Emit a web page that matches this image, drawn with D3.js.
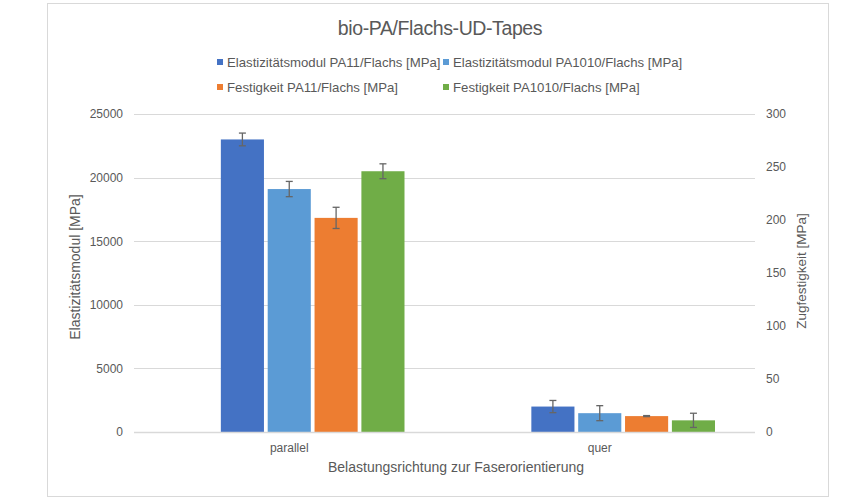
<!DOCTYPE html>
<html lang="de">
<head>
<meta charset="UTF-8">
<title>bio-PA/Flachs-UD-Tapes</title>
<script src="https://d3js.org/d3.v7.min.js"></script>
<style>
  body { margin: 0; background: #fff; }
  text { font-family: "Liberation Sans", Arial, sans-serif; fill: #595959; }
</style>
</head>
<body>
<svg width="868" height="500"></svg>
<script>
// data
const categories = ["parallel", "quer"];
const seriesNames = [
  "Elastizitätsmodul PA11/Flachs [MPa]",
  "Elastizitätsmodul PA1010/Flachs [MPa]",
  "Festigkeit PA11/Flachs [MPa]",
  "Festigkeit PA1010/Flachs [MPa]"
];
const seriesAxis = ["left", "left", "right", "right"];
const modulPA11 = [23000, 2000];
const modulPA1010 = [19100, 1480];
const festPA11 = [202, 15];
const festPA1010 = [246, 11];
const errModulPA11 = [500, 480];
const errModulPA1010 = [600, 590];
const errFestPA11 = [10, 0.5];
const errFestPA1010 = [7, 6.7];
const leftTicks = [0, 5000, 10000, 15000, 20000, 25000];
const rightTicks = [0, 50, 100, 150, 200, 250, 300];

const colors = ["#4472c4", "#5b9bd5", "#ed7d31", "#70ad47"];
const values = [modulPA11, modulPA1010, festPA11, festPA1010];
const errors = [errModulPA11, errModulPA1010, errFestPA11, errFestPA1010];

const svg = d3.select("svg");
const plot = { left: 134, right: 755, top: 114, bottom: 432 };

// chart frame
svg.append("rect")
  .attr("x", 47.5).attr("y", 3.5)
  .attr("width", 781).attr("height", 493)
  .attr("fill", "none").attr("stroke", "#d9d9d9");

const x0 = d3.scaleBand().domain(categories).range([plot.left, plot.right]);
// Excel leaves an empty slot in front of the four bars
const slots = ["_"].concat(seriesNames);
const x1 = d3.scaleBand().domain(slots)
  .range([40, x0.bandwidth() - 40]).paddingInner(0.08);

const yL = d3.scaleLinear().domain([0, 25000]).range([plot.bottom, plot.top]);
const yR = d3.scaleLinear().domain([0, 300]).range([plot.bottom, plot.top]);

// gridlines
svg.append("g").selectAll("line").data(leftTicks.slice(1)).join("line")
  .attr("x1", plot.left).attr("x2", plot.right)
  .attr("y1", d => Math.round(yL(d)) + 0.5).attr("y2", d => Math.round(yL(d)) + 0.5)
  .attr("stroke", "#d9d9d9");

// left axis
const gL = svg.append("g").attr("transform", `translate(${plot.left},0)`)
  .call(d3.axisLeft(yL).tickValues(leftTicks).tickSize(0).tickPadding(11).tickFormat(d3.format("d")));
gL.select(".domain").remove();
gL.selectAll("text").style("font-size", "12px").attr("fill", "#595959")
  .style("font-family", "'Liberation Sans', Arial, sans-serif");

// right axis
const gR = svg.append("g").attr("transform", `translate(${plot.right},0)`)
  .call(d3.axisRight(yR).tickValues(rightTicks).tickSize(0).tickPadding(11).tickFormat(d3.format("d")));
gR.select(".domain").remove();
gR.selectAll("text").style("font-size", "12px").attr("fill", "#595959")
  .style("font-family", "'Liberation Sans', Arial, sans-serif");

// bars
const groups = svg.append("g").selectAll("g").data(categories).join("g")
  .attr("transform", d => `translate(${x0(d)},0)`);

seriesNames.forEach((name, s) => {
  const y = seriesAxis[s] === "left" ? yL : yR;
  groups.append("rect")
    .attr("x", x1(name))
    .attr("width", x1.bandwidth())
    .attr("y", (d, i) => y(values[s][i]))
    .attr("height", (d, i) => plot.bottom - y(values[s][i]))
    .attr("fill", colors[s]);
});

// baseline
svg.append("line")
  .attr("x1", plot.left).attr("x2", plot.right)
  .attr("y1", plot.bottom + 0.5).attr("y2", plot.bottom + 0.5)
  .attr("stroke", "#d9d9d9").attr("stroke-width", 1.5);

// error bars
seriesNames.forEach((name, s) => {
  const y = seriesAxis[s] === "left" ? yL : yR;
  const cx = x1(name) + x1.bandwidth() / 2;
  const eb = groups.append("g").attr("stroke", "#666").attr("stroke-width", 1.3);
  eb.append("line")
    .attr("x1", cx).attr("x2", cx)
    .attr("y1", (d, i) => y(values[s][i] + errors[s][i]))
    .attr("y2", (d, i) => y(values[s][i] - errors[s][i]));
  [1, -1].forEach(sign => {
    eb.append("line")
      .attr("x1", cx - 3.5).attr("x2", cx + 3.5)
      .attr("y1", (d, i) => y(values[s][i] + sign * errors[s][i]))
      .attr("y2", (d, i) => y(values[s][i] + sign * errors[s][i]));
  });
});

// category labels
svg.append("g").selectAll("text").data(categories).join("text")
  .attr("x", d => x0(d) + x0.bandwidth() / 2)
  .attr("y", 452)
  .attr("text-anchor", "middle")
  .style("font-size", "12px")
  .text(d => d);

// axis titles
svg.append("text")
  .attr("x", 456).attr("y", 472)
  .attr("text-anchor", "middle")
  .style("font-size", "14px")
  .text("Belastungsrichtung zur Faserorientierung");

svg.append("text")
  .attr("transform", `translate(80,${(plot.top + plot.bottom) / 2 - 6}) rotate(-90)`)
  .attr("text-anchor", "middle")
  .style("font-size", "14px")
  .text("Elastizitätsmodul [MPa]");

svg.append("text")
  .attr("transform", `translate(806,${(plot.top + plot.bottom) / 2 - 2}) rotate(-90)`)
  .attr("text-anchor", "middle")
  .style("font-size", "13.5px")
  .text("Zugfestigkeit [MPa]");

// title
svg.append("text")
  .attr("x", 440).attr("y", 35)
  .attr("text-anchor", "middle")
  .style("font-size", "19.5px")
  .style("letter-spacing", "-0.4px")
  .text("bio-PA/Flachs-UD-Tapes");

// legend
const legendPos = [[217, 62], [443, 62], [217, 87], [443, 87]];
const legend = svg.append("g").selectAll("g").data(seriesNames).join("g")
  .attr("transform", (d, i) => `translate(${legendPos[i][0]},${legendPos[i][1]})`);
legend.append("rect")
  .attr("x", 0).attr("y", -3).attr("width", 6).attr("height", 6)
  .attr("fill", (d, i) => colors[i]);
legend.append("text")
  .attr("x", 10).attr("y", 4.5)
  .style("font-size", "13.2px")
  .text(d => d);
</script>
</body>
</html>
